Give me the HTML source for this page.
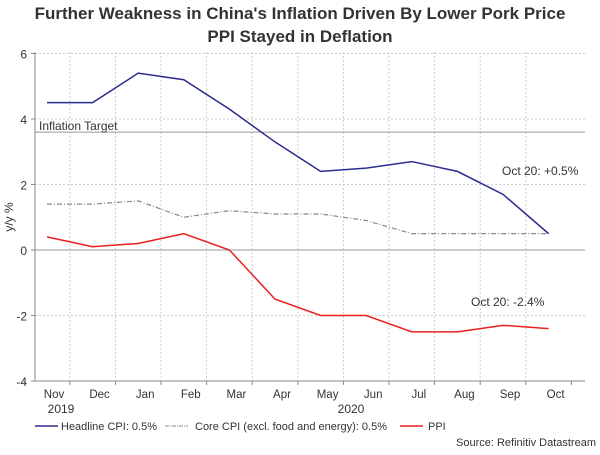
<!DOCTYPE html>
<html><head><meta charset="utf-8"><style>
body{margin:0;background:#fff;font-family:"Liberation Sans",sans-serif}
svg text{font-family:"Liberation Sans",sans-serif}
</style></head><body>
<svg width="600" height="450">
<text x="300" y="19" text-anchor="middle" font-size="17" font-weight="bold" fill="#333">Further Weakness in China's Inflation Driven By Lower Pork Price</text>
<text x="300" y="42" text-anchor="middle" font-size="17" font-weight="bold" fill="#333">PPI Stayed in Deflation</text>
<g id="grid"></g>
<g id="axes"></g>
<g id="series"></g>
<text x="0" y="0" transform="translate(13,217) rotate(-90)" text-anchor="middle" font-size="12" fill="#333">y/y %</text>
<text x="39" y="130" font-size="12" fill="#333">Inflation Target</text>
<text x="502" y="175" font-size="12" fill="#333">Oct 20: +0.5%</text>
<text x="471" y="306" font-size="12" fill="#333">Oct 20: -2.4%</text>
<text x="61" y="413" text-anchor="middle" font-size="12" fill="#333">2019</text>
<text x="351" y="413" text-anchor="middle" font-size="12" fill="#333">2020</text>
<g>
<line x1="35" y1="426" x2="58" y2="426" stroke="#2b2b8f" stroke-width="1.5"/>
<text x="61" y="430" font-size="11" fill="#333">Headline CPI: 0.5%</text>
<line x1="165" y1="426" x2="188" y2="426" stroke="#888" stroke-dasharray="4,1,1,1"/>
<text x="195" y="430" font-size="11" fill="#333">Core CPI (excl. food and energy): 0.5%</text>
<line x1="400" y1="426" x2="423" y2="426" stroke="#e82020" stroke-width="1.5"/>
<text x="428" y="430" font-size="11" fill="#333">PPI</text>
</g>
<text x="596" y="446" text-anchor="end" font-size="11" fill="#333">Source: Refinitiv Datastream</text>
</svg>
<script>
const months=["Nov","Dec","Jan","Feb","Mar","Apr","May","Jun","Jul","Aug","Sep","Oct"];
const headline=[4.5,4.5,5.4,5.2,4.3,3.3,2.4,2.5,2.7,2.4,1.7,0.5];
const core=[1.4,1.4,1.5,1.0,1.2,1.1,1.1,0.9,0.5,0.5,0.5,0.5];
const ppi=[0.4,0.1,0.2,0.5,0.0,-1.5,-2.0,-2.0,-2.5,-2.5,-2.3,-2.4];
const yTicks=[-4,-2,0,2,4,6];
const target=3.6;
const NS="http://www.w3.org/2000/svg";
const X0=47,DX=45.6,Y0=250,SY=32.75,L=35,R=585,T=52,B=381;
const x=i=>X0+i*DX, y=v=>Y0-v*SY;
function mk(tag,attrs,parent,txt){const e=document.createElementNS(NS,tag);for(const k in attrs)e.setAttribute(k,attrs[k]);if(txt!==undefined)e.textContent=txt;document.getElementById(parent).appendChild(e);return e;}
yTicks.forEach(v=>{
 const g=mk("line",{x1:L,x2:R,y1:y(v),y2:y(v),stroke:"#ccc","stroke-dasharray":"2,2"},"grid");
 
 
 const t=mk("text",{x:L-8,y:y(v)+5,"text-anchor":"end","font-size":"12",fill:"#333"},"axes",String(v));
 
 
 mk("line",{x1:L-4,x2:L,y1:y(v),y2:y(v),stroke:"#888"},"axes");
});
for(let i=0;i<=months.length;i++){
 const gx=x(i)-DX/2;
 if(i>0&&i<months.length){const g=mk("line",{x1:gx,x2:gx,y1:T,y2:B,stroke:"#ccc","stroke-dasharray":"2,2"},"grid");
 
 }
 mk("line",{x1:gx,x2:gx,y1:B,y2:B+4,stroke:"#888"},"axes");
}
months.forEach((m,i)=>{
 const t=mk("text",{x:x(i)+7,y:398,"text-anchor":"middle","font-size":"11.5",fill:"#333"},"axes",m);
 
 
});
const tl=mk("line",{x1:L,x2:R,y1:y(target),y2:y(target),stroke:"#999","stroke-width":"1"},"grid");


mk("line",{x1:L,x2:L,y1:T,y2:B,stroke:"#888"},"axes");
mk("line",{x1:L,x2:R,y1:B,y2:B,stroke:"#888"},"axes");
mk("line",{x1:L,x2:R,y1:y(0),y2:y(0),stroke:"#999"},"axes");
function series(arr,col,dash,name,w){
 const p=mk("polyline",{points:arr.map((v,i)=>x(i)+","+y(v)).join(" "),fill:"none",stroke:col,"stroke-width":w},"series");
 if(dash)p.setAttribute("stroke-dasharray",dash);
 
 
}
series(core,"#888","5,2,1,2","core-cpi-line",1.2);
series(headline,"#2b2b8f",null,"headline-cpi-line",1.5);
series(ppi,"#e82020",null,"ppi-line",1.5);
</script>
</body></html>
